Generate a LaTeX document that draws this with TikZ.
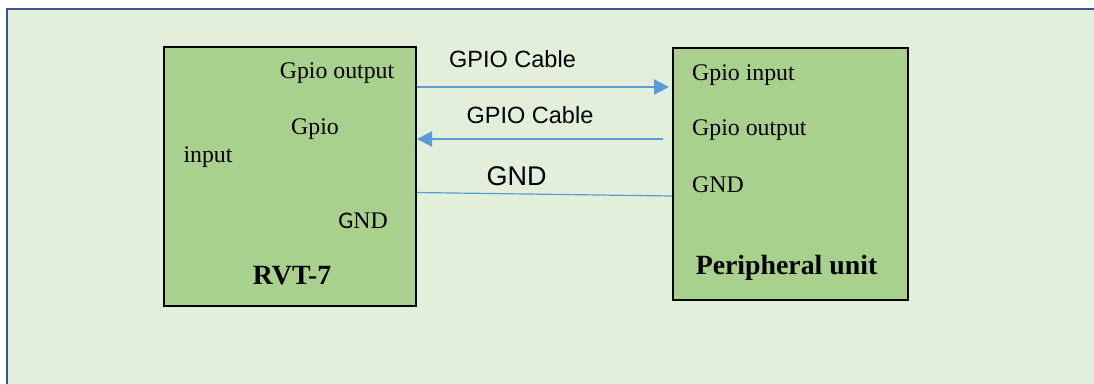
\documentclass[tikz,border=0pt]{standalone}
\usepackage{fontspec}
\setmainfont{Liberation Serif}
\newfontfamily\sansf{Liberation Sans}
\newfontfamily\calib{Carlito}
\usetikzlibrary{arrows.meta}
\definecolor{bgfill}{HTML}{E2EFDA}
\definecolor{frameblue}{HTML}{3B5587}
\definecolor{boxfill}{HTML}{A9D18E}
\definecolor{wire}{HTML}{5B9BD5}
\begin{document}
\begin{tikzpicture}[x=1pt,y=-1pt,
  blk/.style={draw=black,line width=2pt,fill=boxfill,inner sep=0pt,anchor=north west},
  lbl/.style={inner sep=0pt,font=\fontsize{23.8}{28}\selectfont},
  blbl/.style={inner sep=0pt,font=\fontsize{27.8}{32}\selectfont\bfseries},
  clbl/.style={inner sep=0pt,font=\sansf\fontsize{23.5}{28}\selectfont},
  wirearrow/.style={draw=wire,line width=2.4pt,-{Triangle[length=15pt,width=15pt]}},
  wirethin/.style={draw=wire,line width=1.2pt}]
\useasboundingbox (0,0) rectangle (1094,383);
\fill[white] (0,0) rectangle (1094,383);
\begin{scope}
\clip (0,0) rectangle (1094,383);
\draw[frameblue,line width=2pt,fill=bgfill] (7,9) rectangle (1110,400);
\end{scope}
% shadows
\fill[gray!70] (164,48) rectangle (417,307);
\fill[gray!70] (673,49) rectangle (908,301);
\node[blk,minimum width=252pt,minimum height=259pt] (rvt) at (163,46) {};
\node[blk,minimum width=235pt,minimum height=252pt] (per) at (672,47) {};
% left box labels
\node[lbl] (lo) at (337,73) {Gpio output};
\node[lbl] (lg) at (315,129) {Gpio};
\node[lbl] (li) at (208,157) {input};
\node[lbl] (lgnd) at (363,221) {{\calib G}{\rmfamily ND}};
\node[blbl] (lname) at (292,276) {RVT-7};
% right box labels
\node[lbl,anchor=west] (ri) at (692,75) {Gpio input};
\node[lbl,anchor=west] (ro) at (692,130) {Gpio output};
\node[lbl,anchor=west] (rg) at (692,185) {GND};
\node[blbl] (rname) at (786.5,268) {Peripheral unit};
% connectors
\coordinate (a2s) at (663,139);
\draw[wirearrow] (rvt.east |- 0,87) -- (669,87) coordinate (a1e);
\draw[wirearrow] (a2s) -- (rvt.east |- a2s);
\draw[wirethin] (rvt.east |- 0,192.5) -- (per.west |- 0,196);
% cable labels
\node[clbl] (c1) at (512.5,59.5) {GPIO Cable};
\node[clbl] (c2) at (530,115) {GPIO Cable};
\node[clbl,font=\sansf\fontsize{27}{32}\selectfont] (c3) at (516.5,176) {GND};
\end{tikzpicture}
\end{document}
